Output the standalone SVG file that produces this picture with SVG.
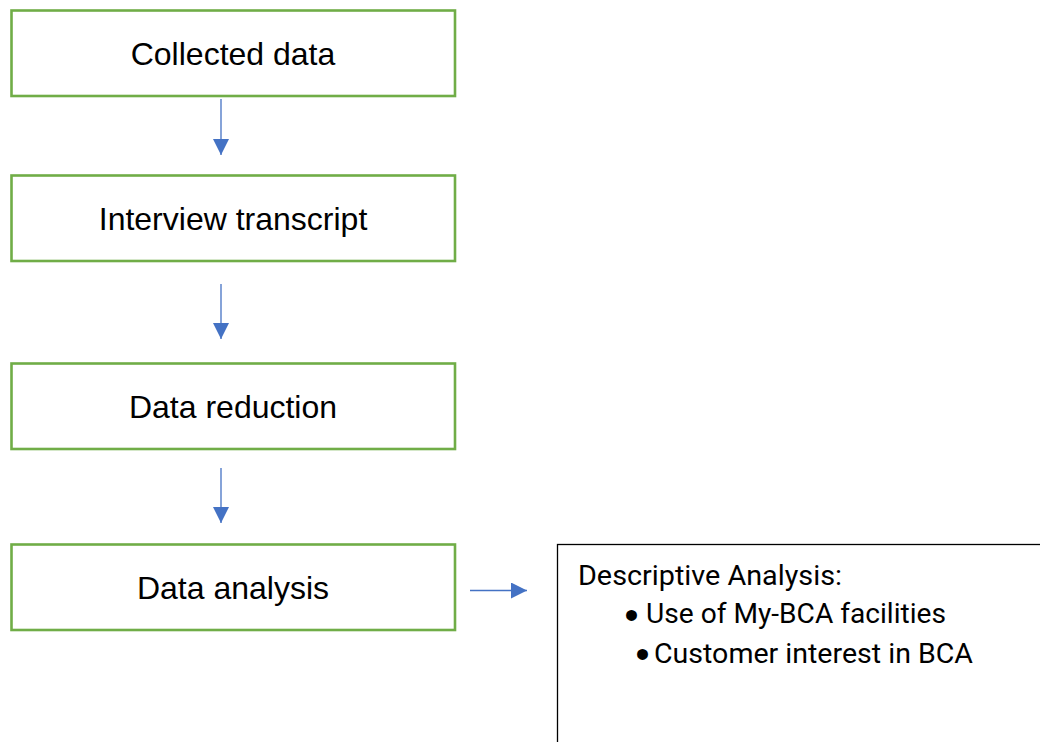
<svg xmlns="http://www.w3.org/2000/svg" width="1040" height="742" viewBox="0 0 1040 742">
<style>
.box{fill:#fff;stroke:#70AD47;stroke-width:2.6}
.lbl{font-family:"Liberation Sans",Arial,sans-serif;font-size:32px;fill:#000;text-anchor:middle}
.conn{stroke:#4472C4;stroke-width:1.3;fill:none}
.desc{font-family:Roboto,"Open Sans",sans-serif;font-size:28px;fill:#000}
.bul{font-family:"Liberation Sans",Arial,sans-serif;font-size:40px;fill:#000;text-anchor:middle}
</style>
<defs>
<marker id="ah" viewBox="0 0 16 16" refX="16" refY="8" markerWidth="16" markerHeight="16" markerUnits="userSpaceOnUse" orient="auto">
<path d="M0,0 L16,8 L0,16 Z" fill="#4472C4"/>
</marker>
</defs>
<rect width="1040" height="742" fill="#fff"/>
<g id="n1"><rect class="box" x="11.5" y="10.5" width="443.5" height="85.5"/><text class="lbl" x="233" y="65">Collected data</text></g>
<g id="n2"><rect class="box" x="11.5" y="175.5" width="443.5" height="85.5"/><text class="lbl" x="233" y="230">Interview transcript</text></g>
<g id="n3"><rect class="box" x="11.5" y="363.5" width="443.5" height="85.5"/><text class="lbl" x="233" y="418">Data reduction</text></g>
<g id="n4"><rect class="box" x="11.5" y="544.5" width="443.5" height="85.5"/><text class="lbl" x="233" y="599">Data analysis</text></g>
<g id="n5"><rect x="557.5" y="544.5" width="490" height="210" fill="#fff" stroke="#000" stroke-width="1.3"/>
<text class="desc" x="578" y="585" textLength="264" lengthAdjust="spacingAndGlyphs">Descriptive Analysis:</text>
<text class="bul" x="631.5" y="629">•</text><text class="desc" x="646" y="623" textLength="300" lengthAdjust="spacingAndGlyphs">Use of My-BCA facilities</text>
<text class="bul" x="642.5" y="668">•</text><text class="desc" x="654" y="663" textLength="319" lengthAdjust="spacingAndGlyphs">Customer interest in BCA</text>
</g>
<g id="connectors">
<line class="conn" x1="221" y1="99" x2="221" y2="155" marker-end="url(#ah)"/>
<line class="conn" x1="221" y1="284" x2="221" y2="339" marker-end="url(#ah)"/>
<line class="conn" x1="221" y1="468" x2="221" y2="523" marker-end="url(#ah)"/>
<line class="conn" x1="470" y1="590.5" x2="527" y2="590.5" marker-end="url(#ah)"/>
</g>
</svg>
